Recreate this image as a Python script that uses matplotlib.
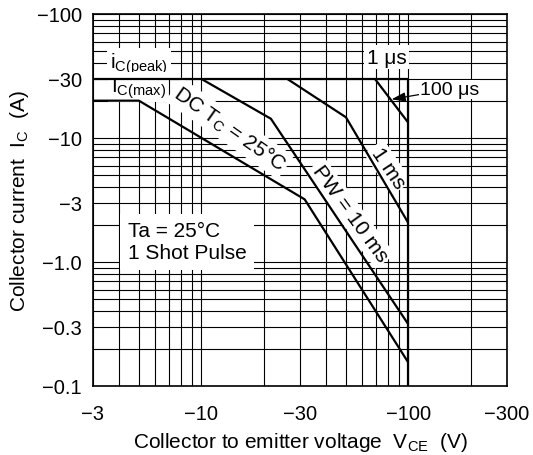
import numpy as np
import matplotlib
matplotlib.use("Agg")
import matplotlib.pyplot as plt
from matplotlib.ticker import FixedLocator, FixedFormatter, LogLocator, NullFormatter

plt.rcParams.update({
    "font.family": ["Liberation Sans", "DejaVu Sans"],
    "mathtext.default": "regular",
    "font.size": 14,
})

# tick values (magnitudes, shown with a minus sign)
vce_ticks = [3, 10, 30, 100, 300]
vce_tick_labels = ["\u22123", "\u221210", "\u221230", "\u2212100", "\u2212300"]
ic_ticks = [0.1, 0.3, 1.0, 3, 10, 30, 100]
ic_tick_labels = ["\u22120.1", "\u22120.3", "\u22121.0", "\u22123", "\u221210", "\u221230", "\u2212100"]

# safe operating area boundaries, |VCE| in V, |IC| in A
dc_v = [3, 5, 31.6, 100]
dc_i = [20, 20, 3.2, 0.155]
pw10ms_v = [10, 21.7, 100]
pw10ms_i = [30, 14.3, 0.315]
pw1ms_v = [26, 50, 100]
pw1ms_i = [30, 14.7, 2.07]
pw100us_v = [69, 100]
pw100us_i = [30, 13.3]
peak_v = [3, 100]
peak_i = [30, 30]
vceo_v = [100, 100]
vceo_i = [30, 0.1]

W, H = 533, 456
fig = plt.figure(figsize=(W / 100, H / 100), dpi=100)
ax = fig.add_axes([93 / W, 1 - 387 / H, 414 / W, 372 / H])
ax.set_xscale("log")
ax.set_yscale("log")
ax.set_xlim(3, 300)
ax.set_ylim(0.1, 100)

ax.xaxis.set_major_locator(FixedLocator(vce_ticks))
ax.xaxis.set_major_formatter(FixedFormatter(vce_tick_labels))
ax.yaxis.set_major_locator(FixedLocator(ic_ticks))
ax.yaxis.set_major_formatter(FixedFormatter(ic_tick_labels))
for axis in (ax.xaxis, ax.yaxis):
    axis.set_minor_locator(LogLocator(base=10, subs=np.arange(1, 10)))
    axis.set_minor_formatter(NullFormatter())
ax.tick_params(which="both", length=0)
ax.tick_params(axis="x", pad=13, labelsize=14.5)
ax.tick_params(axis="y", pad=8, labelsize=14.5)
ax.grid(which="both", color="black", lw=0.8)
ax.set_axisbelow(True)
for s in ax.spines.values():
    s.set_linewidth(1.2)

kw = dict(color="black", lw=1.6, zorder=5, solid_capstyle="butt")
ax.plot(dc_v, dc_i, **kw)
ax.plot(pw10ms_v, pw10ms_i, **kw)
ax.plot(pw1ms_v, pw1ms_i, **kw)
ax.plot(pw100us_v, pw100us_i, **kw)
ax.plot(peak_v, peak_i, **kw)
ax.plot(vceo_v, vceo_i, **kw)

box = dict(facecolor="white", edgecolor="none", pad=2)
tkw = dict(fontsize=15, ha="center", va="center", bbox=box, zorder=4)
ax.text(5.0, 40, r"i$_{C(peak)}$", **tkw)
ax.text(4.96, 25.6, r"I$_{C(max)}$", **tkw)
ax.text(13.7, 11.9, r"DC T$_{C}$ = 25°C", rotation=-35, **tkw)
ax.text(52.3, 2.47, "PW = 10 ms", rotation=-54, **tkw)
ax.text(79.6, 5.8, "1 ms", rotation=-56, **tkw)
ax.text(78.6, 44.8, "1 \u03bcs", **tkw)
ax.annotate("100 \u03bcs", xy=(83, 20.5), xytext=(114, 24.7),
            fontsize=14, ha="left", va="center", zorder=4,
            bbox=dict(facecolor="white", edgecolor="none", pad=0.5),
            arrowprops=dict(arrowstyle="-|>,head_length=0.6,head_width=0.2",
                            color="black", lw=0.9, shrinkA=0, shrinkB=0))
ax.text(4.41, 1.455, "Ta = 25°C\n1 Shot Pulse", fontsize=15, ha="left",
        va="center", linespacing=1.2, zorder=4,
        bbox=dict(boxstyle="square,pad=0.35", facecolor="white", edgecolor="none"))

ax.set_xlabel(r"Collector to emitter voltage  V$_{CE}$  (V)", fontsize=15)
ax.set_ylabel(r"Collector current  I$_{C}$  (A)", fontsize=15)
ax.xaxis.set_label_coords(0.5, -0.118)
ax.yaxis.set_label_coords(-0.15, 0.5)

fig.savefig("out.png", dpi=100)
